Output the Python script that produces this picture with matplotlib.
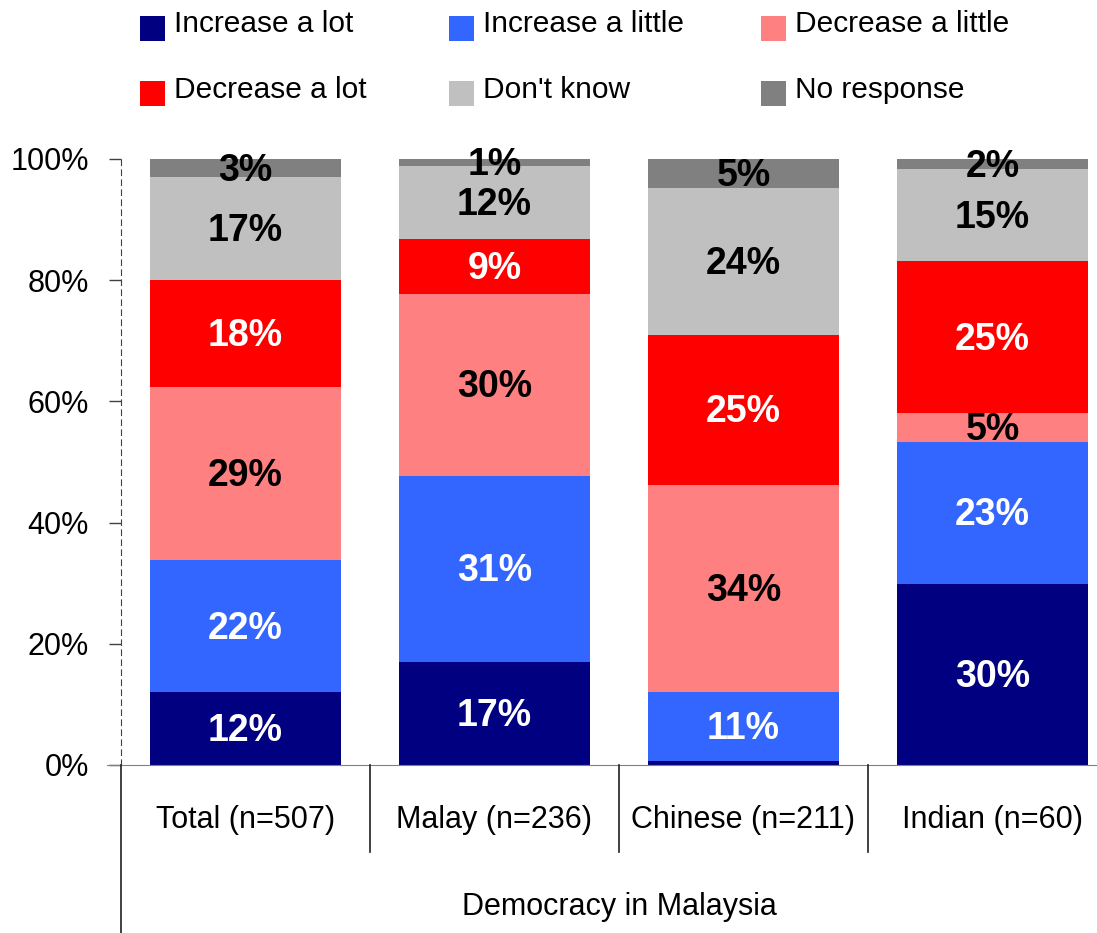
import matplotlib
matplotlib.use("Agg")
import matplotlib.pyplot as plt
from matplotlib.patches import Rectangle
from matplotlib.lines import Line2D
import matplotlib.transforms as mtransforms

# ---- data ----
categories = ["Total (n=507)", "Malay (n=236)", "Chinese (n=211)", "Indian (n=60)"]
series_names = ["Increase a lot", "Increase a little", "Decrease a little",
                "Decrease a lot", "Don't know", "No response"]
increase_lot = [12, 17, 0.7, 29.9]
increase_little = [21.8, 30.7, 11.4, 23.4]
decrease_little = [28.6, 30, 34.1, 4.8]
decrease_lot = [17.6, 9.1, 24.8, 25]
dont_know = [17, 12, 24.2, 15.2]
no_response = [3, 1.2, 4.8, 1.7]
series_values = [increase_lot, increase_little, decrease_little,
                 decrease_lot, dont_know, no_response]
colors = ["#000080", "#3366FF", "#FF8080", "#FF0000", "#C0C0C0", "#808080"]
label_colors = ["white", "white", "black", "white", "black", "black"]
yticks = [0, 20, 40, 60, 80, 100]
ytick_labels = ["0%", "20%", "40%", "60%", "80%", "100%"]
xlabel = "Democracy in Malaysia"

NARROW = ["Liberation Sans Narrow", "Liberation Sans", "DejaVu Sans"]
BOLD = ["Liberation Sans", "DejaVu Sans"]

W, H = 1097, 933
fig = plt.figure(figsize=(W / 100, H / 100), dpi=100)

def fx(px):
    return px / W

def fy(py):
    return 1 - py / H

left_px, right_px = 121, 121 + 4 * 249
top_px, bot_px = 159, 765
ax = fig.add_axes([fx(left_px), fy(bot_px), fx(right_px - left_px), fy(top_px) - fy(bot_px)])

x = list(range(len(categories)))
bottoms = [0.0] * len(categories)
for vals, col, lcol in zip(series_values, colors, label_colors):
    ax.bar(x, vals, width=0.77, bottom=bottoms, color=col, edgecolor="none", zorder=2)
    for i, v in enumerate(vals):
        if v >= 1:
            ax.text(x[i], bottoms[i] + v / 2 - 0.4, f"{round(v)}%", ha="center", va="center",
                    color=lcol, fontsize=27, fontweight="bold", family=BOLD, zorder=3)
    bottoms = [b + v for b, v in zip(bottoms, vals)]

ax.set_xlim(-0.5, len(categories) - 0.5)
ax.set_ylim(0, 100)
ax.set_yticks(yticks)
ax.set_yticklabels(ytick_labels, fontsize=22, family=NARROW)
ax.tick_params(axis="y", direction="out", length=9, width=1, pad=14, color="#404040")
ax.set_xticks([])
for s in ["top", "right"]:
    ax.spines[s].set_visible(False)
ax.spines["left"].set_linestyle((0, (5, 4)))
ax.spines["left"].set_color("#404040")
ax.spines["bottom"].set_color("#808080")
ax.spines["bottom"].set_bounds(-0.555, len(categories) - 0.5)

# category separators and labels
trans = mtransforms.blended_transform_factory(ax.transData, fig.transFigure)
for i in range(len(categories) + 1):
    xs = i - 0.5
    y_end = fy(852) if i > 0 else 0.0
    fig.add_artist(Line2D([xs, xs], [fy(bot_px), y_end], transform=trans,
                          color="#202020", lw=1.2))
for i, c in enumerate(categories):
    fig.text(x[i], fy(820), c, transform=trans, ha="center", va="center",
             fontsize=22, family=NARROW)
fig.text(fx((left_px + right_px) / 2), fy(907), xlabel, ha="center", va="center",
         fontsize=22, family=NARROW)

# legend (manual placement)
col_x = [140, 449, 761]
row_y = [28.5, 93.5]
for k, (name, col) in enumerate(zip(series_names, colors)):
    r, c = divmod(k, 3)
    mx = col_x[c]
    my = row_y[r]
    fig.add_artist(Rectangle((fx(mx), fy(my + 12.5)), fx(25), fy(0) - fy(25),
                             transform=fig.transFigure, facecolor=col, edgecolor="none"))
    fig.text(fx(mx + 34), fy(my - 4), name, ha="left", va="center",
             fontsize=21.5, family=NARROW)

fig.savefig("out.png", dpi=100)
